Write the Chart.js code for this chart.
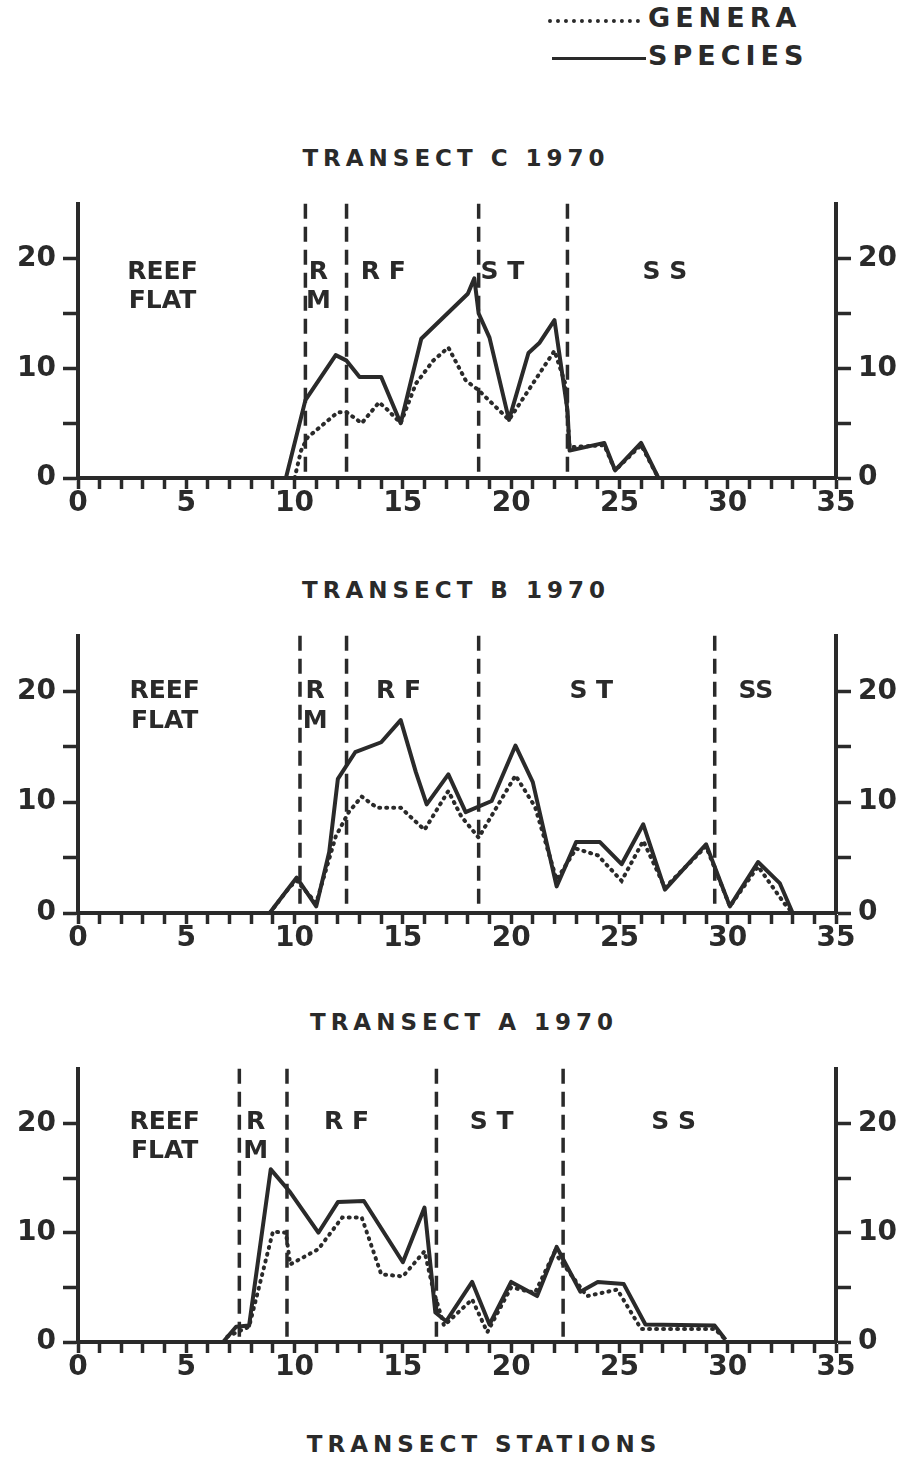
<!DOCTYPE html>
<html>
<head>
<meta charset="utf-8">
<script src="https://cdn.jsdelivr.net/npm/chart.js@4/dist/chart.umd.min.js"></script>
<style>
    body { margin: 0; background: #fff; width: 908px; height: 1462px; position: relative; overflow: hidden;
           font-family: "DejaVu Sans", sans-serif; font-weight: bold; color: #2a2a2a; }
    .t { position: absolute; font-size: 23px; letter-spacing: 5px; white-space: nowrap; transform: translateX(-50%); }
    .leg { position: absolute; font-size: 27px; letter-spacing: 5px; white-space: nowrap; }
    .legline { position: absolute; height: 0; }
    canvas { position: absolute; left: 0; }
</style>
</head>
<body>

<div class="legline" style="left:548px;top:19px;width:92px;border-top:4px dotted #2a2a2a;"></div>
<div class="leg" style="left:648px;top:2px;">GENERA</div>
<div class="legline" style="left:552px;top:57px;width:94px;border-top:3px solid #2a2a2a;"></div>
<div class="leg" style="left:648px;top:40px;">SPECIES</div>

<div class="t" style="left:456px;top:145px;">TRANSECT C 1970</div>
<div class="t" style="left:456px;top:577px;">TRANSECT B 1970</div>
<div class="t" style="left:464px;top:1009px;">TRANSECT A 1970</div>
<div class="t" style="left:484px;top:1431px;">TRANSECT STATIONS</div>

<canvas id="chartC" width="908" height="343" style="top:180px"></canvas>
<canvas id="chartB" width="908" height="346" style="top:612px"></canvas>
<canvas id="chartA" width="908" height="342" style="top:1045px"></canvas>

<script>
// Transect C 1970
const cSpeciesStations = [9.6, 10.5, 11.9, 12.4, 13, 14, 14.9, 15.85, 16.9, 18.0, 18.3, 18.5, 19, 19.9, 20.8, 21.3, 22, 22.6, 22.7, 24.3, 24.8, 26, 26.8];
const cSpecies = [0, 7.1, 11.2, 10.7, 9.2, 9.2, 5.0, 12.7, 14.7, 16.8, 18.2, 15, 12.8, 5.3, 11.4, 12.3, 14.4, 6.2, 2.5, 3.2, 0.7, 3.2, 0];
const cGeneraStations = [10, 10.3, 10.6, 12, 12.4, 13.1, 13.9, 14.3, 14.9, 15.6, 16.4, 17.1, 17.9, 18.5, 19.9, 20.6, 22, 22.5, 22.7, 24.3, 24.8, 26, 26.8];
const cGenera = [0, 2.5, 3.7, 6.0, 6.0, 5.0, 6.9, 6.2, 5.0, 8.6, 10.7, 11.9, 8.9, 8.0, 5.3, 7.4, 11.6, 8.6, 2.8, 3.0, 0.7, 3.0, 0];
const cZoneEdges = [10.5, 12.4, 18.5, 22.6];

// Transect B 1970
const bSpeciesStations = [8.85, 10.1, 11.0, 11.6, 12.0, 12.8, 14.0, 14.9, 15.6, 16.1, 17.1, 17.9, 19.1, 20.2, 21.0, 22.1, 23.0, 24.1, 25.1, 26.1, 27.1, 29.0, 30.1, 31.4, 32.4, 33.0];
const bSpecies = [0, 3.2, 0.6, 5.5, 12.1, 14.5, 15.4, 17.4, 12.7, 9.8, 12.5, 9.1, 10.1, 15.1, 11.8, 2.4, 6.4, 6.4, 4.4, 8.0, 2.1, 6.2, 0.6, 4.6, 2.7, 0];
const bGeneraStations = [8.85, 9.8, 10.1, 11.0, 11.9, 12.5, 13.1, 13.8, 14.9, 16.0, 17.1, 17.7, 18.5, 20.2, 21.1, 22.1, 23.0, 24.0, 25.1, 26.1, 27.1, 29.0, 30.1, 31.4, 32.6, 33.0];
const bGenera = [0, 2.4, 2.9, 0.9, 6.9, 9.1, 10.5, 9.5, 9.5, 7.5, 11.0, 8.7, 6.8, 12.4, 9.6, 3.0, 5.8, 5.2, 2.9, 6.5, 2.3, 6.0, 0.6, 4.2, 0.9, 0];
const bZoneEdges = [10.25, 12.4, 18.5, 29.4];

// Transect A 1970
const aSpeciesStations = [0, 6.7, 7.3, 7.9, 8.9, 9.8, 11.1, 12.0, 13.2, 15.0, 16.0, 16.5, 17.0, 18.2, 19.0, 20.0, 21.2, 22.1, 23.2, 24.0, 25.2, 26.2, 29.4, 29.9];
const aSpecies = [0, 0, 1.4, 1.5, 15.8, 13.7, 10.0, 12.8, 12.9, 7.3, 12.3, 2.7, 1.9, 5.5, 1.6, 5.5, 4.2, 8.7, 4.6, 5.5, 5.3, 1.6, 1.5, 0.2];
const aGeneraStations = [6.9, 7.9, 9.0, 9.6, 9.8, 11.1, 12.2, 13.1, 14.0, 15.0, 16.0, 16.4, 16.9, 18.2, 18.9, 20.0, 21.1, 22.0, 23.5, 24.9, 26.0, 29.4, 29.9];
const aGenera = [0.5, 1.4, 10.1, 10.0, 7.1, 8.5, 11.4, 11.4, 6.2, 6.0, 8.3, 4.8, 1.5, 3.9, 0.9, 5.0, 4.5, 8.2, 4.2, 4.8, 1.2, 1.2, 0.2];
const aZoneEdges = [7.45, 9.65, 16.55, 22.4];

// zone labels: [text, station, value]
const cZoneLabels = [['REEF', 3.9, 18.7], ['FLAT', 3.9, 16.1], ['R', 11.1, 18.7], ['M', 11.1, 16.1], ['R F', 14.1, 18.7], ['S T', 19.6, 18.7], ['S S', 27.1, 18.7]];
const bZoneLabels = [['REEF', 4, 20], ['FLAT', 4, 17.3], ['R', 10.95, 20], ['M', 10.95, 17.3], ['R F', 14.8, 20], ['S T', 23.7, 20], ['SS', 31.3, 20]];
const aZoneLabels = [['REEF', 4, 20.1], ['FLAT', 4, 17.4], ['R', 8.2, 20.1], ['M', 8.2, 17.4], ['R F', 12.4, 20.1], ['S T', 19.1, 20.1], ['S S', 27.5, 20.1]];

const INK = '#2a2a2a';
const FONT = 'DejaVu Sans';

function toPoints(xs, ys) {
    return xs.map((x, i) => ({ x: x, y: ys[i] }));
}

// dashed zone boundaries and zone names
const zonePlugin = {
    id: 'zones',
    beforeDatasetsDraw(chart, args, opts) {
        const ctx = chart.ctx;
        const xs = chart.scales.x;
        const ys = chart.scales.y;
        const area = chart.chartArea;
        ctx.save();
        ctx.strokeStyle = INK;
        ctx.lineWidth = 3.5;
        ctx.setLineDash([15, 8]);
        opts.edges.forEach(e => {
            const px = xs.getPixelForValue(e);
            ctx.beginPath();
            ctx.moveTo(px, area.top);
            ctx.lineTo(px, area.bottom);
            ctx.stroke();
        });
        ctx.setLineDash([]);
        ctx.fillStyle = INK;
        ctx.font = 'bold 25px "' + FONT + '"';
        ctx.textAlign = 'center';
        ctx.textBaseline = 'middle';
        opts.labels.forEach(l => {
            ctx.fillText(l[0], xs.getPixelForValue(l[1]), ys.getPixelForValue(l[2]));
        });
        ctx.restore();
    }
};

function yAxis(position) {
    return {
        type: 'linear',
        position: position,
        min: 0,
        max: 25,
        afterBuildTicks: s => { s.ticks = s.ticks.filter(t => t.value <= 20); },
        afterFit: s => { s.width = position === 'left' ? 78 : 72; },
        border: { display: true, color: INK, width: 4 },
        grid: { display: true, drawOnChartArea: false, drawTicks: true, tickLength: 15, tickWidth: 3.5, color: INK },
        ticks: {
            stepSize: 5,
            padding: 7,
            color: INK,
            font: { family: FONT, size: 28, weight: 'bold' },
            callback: v => (v % 10 === 0 ? String(v) : '')
        }
    };
}

function makePanel(id, spSt, sp, geSt, ge, edges, labels) {
    new Chart(document.getElementById(id), {
        type: 'line',
        data: {
            datasets: [
                {
                    label: 'SPECIES',
                    data: toPoints(spSt, sp),
                    borderColor: INK,
                    borderWidth: 4,
                    pointRadius: 0,
                    tension: 0,
                    borderJoinStyle: 'round'
                },
                {
                    label: 'GENERA',
                    data: toPoints(geSt, ge),
                    borderColor: INK,
                    borderWidth: 4,
                    borderDash: [1, 6],
                    borderCapStyle: 'round',
                    pointRadius: 0,
                    tension: 0
                }
            ]
        },
        options: {
            responsive: false,
            animation: false,
            devicePixelRatio: 1,
            layout: { padding: { top: 3 } },
            plugins: {
                legend: { display: false },
                tooltip: { enabled: false },
                zones: { edges: edges, labels: labels }
            },
            scales: {
                x: {
                    type: 'linear',
                    min: 0,
                    max: 35,
                    afterFit: s => { s.height = 45; },
                    border: { display: true, color: INK, width: 4 },
                    grid: { display: true, drawOnChartArea: false, drawTicks: true, tickLength: 11, tickWidth: 3.5, color: INK },
                    ticks: {
                        stepSize: 1,
                        autoSkip: false,
                        maxRotation: 0,
                        padding: -2,
                        color: INK,
                        font: { family: FONT, size: 28, weight: 'bold' },
                        callback: v => (v % 5 === 0 ? String(v) : '')
                    }
                },
                y: yAxis('left'),
                y2: yAxis('right')
            }
        },
        plugins: [zonePlugin]
    });
}

makePanel('chartC', cSpeciesStations, cSpecies, cGeneraStations, cGenera, cZoneEdges, cZoneLabels);
makePanel('chartB', bSpeciesStations, bSpecies, bGeneraStations, bGenera, bZoneEdges, bZoneLabels);
makePanel('chartA', aSpeciesStations, aSpecies, aGeneraStations, aGenera, aZoneEdges, aZoneLabels);
</script>
</body>
</html>
